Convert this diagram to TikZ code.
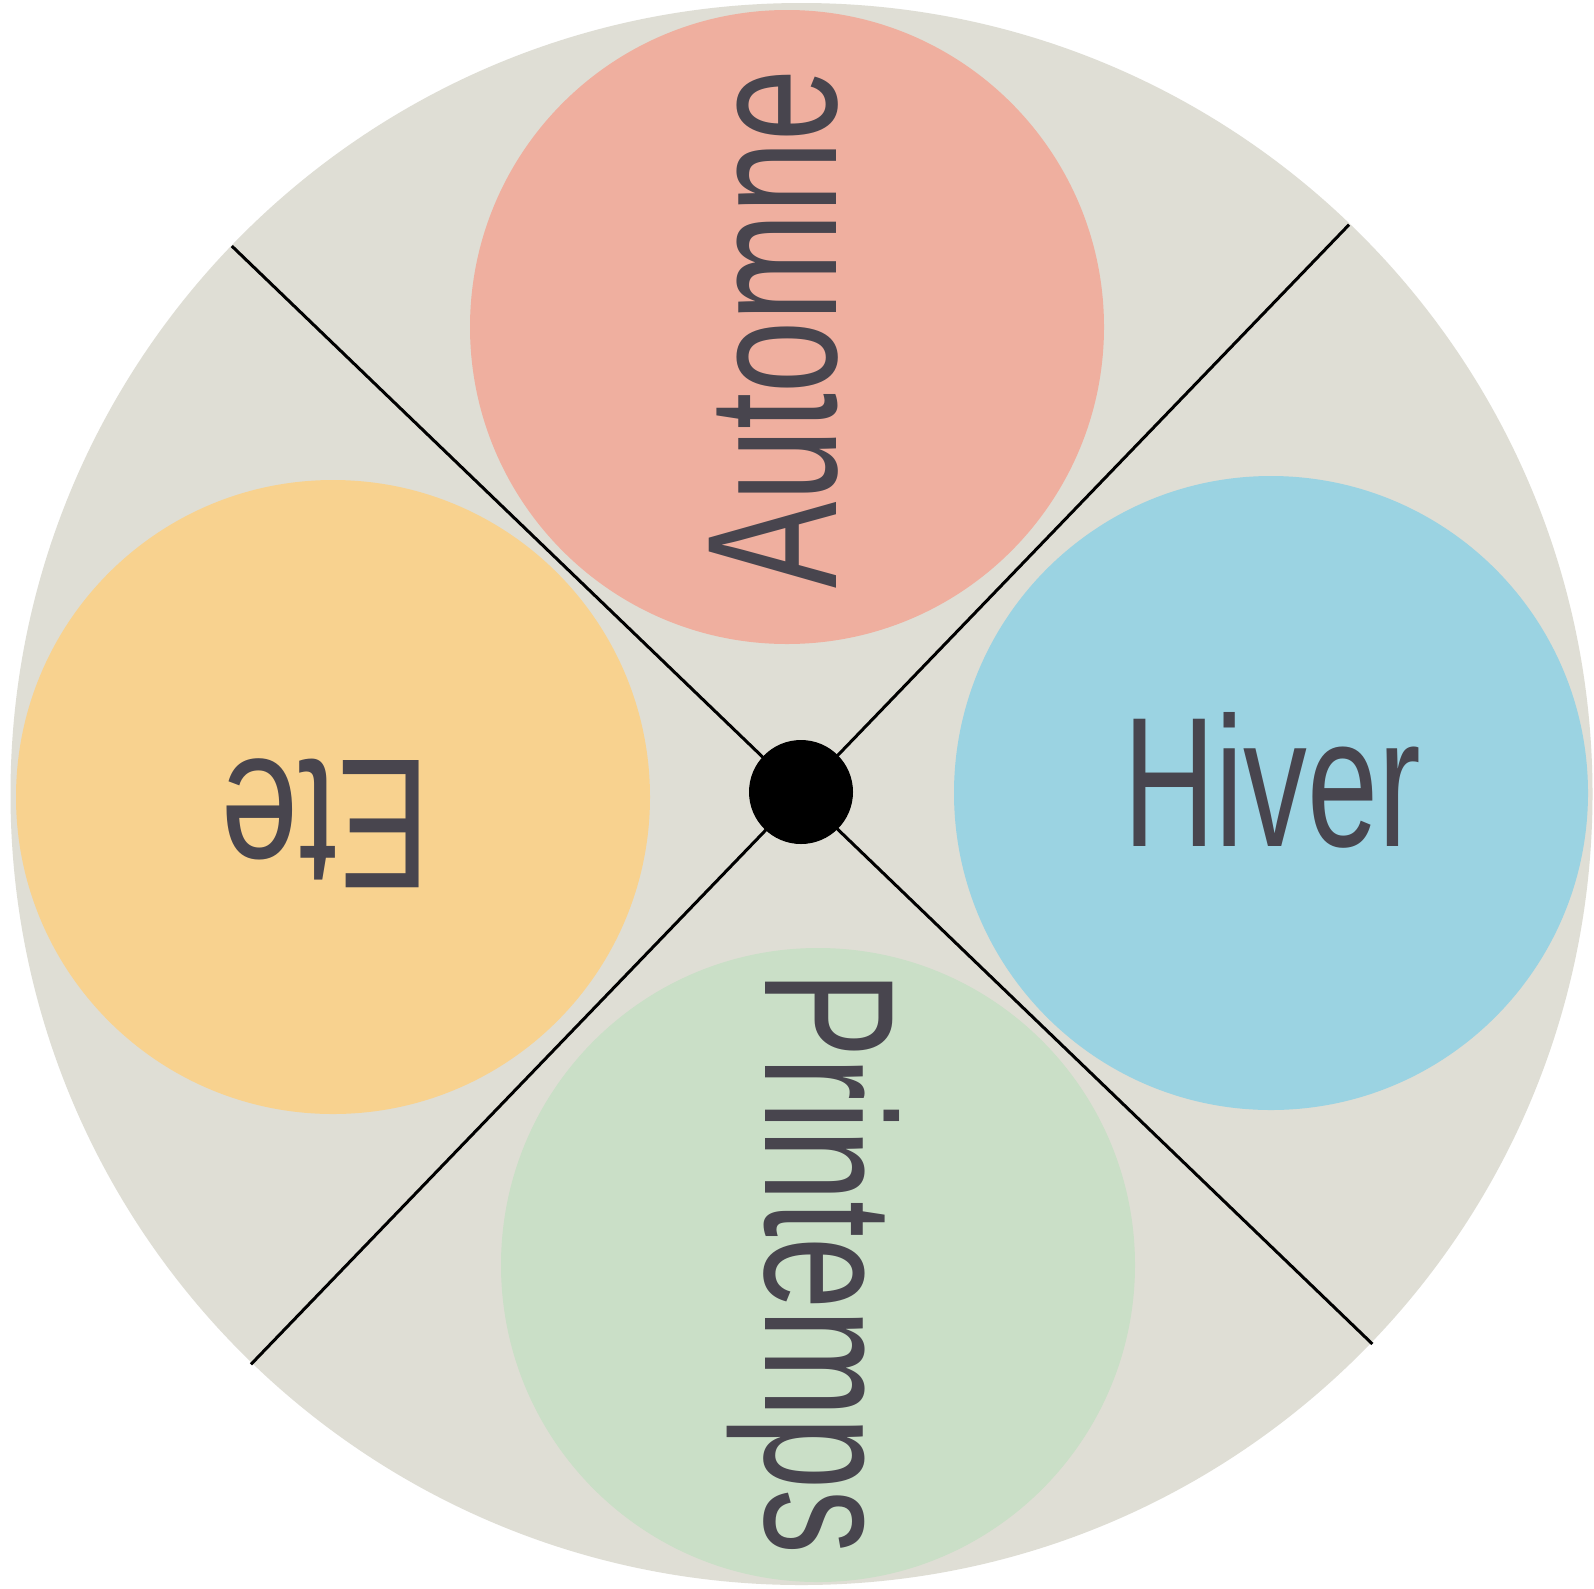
\documentclass[tikz,border=0pt]{standalone}
\usepackage{fontspec}
\usepackage{graphicx}
\setmainfont{Liberation Sans}
\definecolor{bggrey}{RGB}{223,222,213}
\definecolor{autred}{RGB}{239,175,159}
\definecolor{eteorange}{RGB}{248,210,143}
\definecolor{hivblue}{RGB}{155,211,226}
\definecolor{prigreen}{RGB}{202,223,199}
\definecolor{inkgrey}{RGB}{72,69,78}
\tikzset{
  season/.style={circle, inner sep=0pt, minimum size=634pt, draw=none},
  word/.style={text=inkgrey, inner sep=0pt, anchor=base, font=\fontsize{185}{185}\selectfont},
  divider/.style={black, line width=3pt},
}
\newcommand{\narrow}[2]{\scalebox{#1}[1]{#2}}
\begin{document}
\begin{tikzpicture}[x=1pt, y=-1pt]
  \useasboundingbox (0,0) rectangle (1594,1588);
  \fill[white] (0,0) rectangle (1594,1588);
  \node[circle, fill=bggrey, inner sep=0pt, minimum size=1582pt] (disc) at (801.5,794) {};
  \node[season, fill=autred] (aut) at (787,327) {};
  \node[season, fill=eteorange] (ete) at (333,797) {};
  \node[season, fill=hivblue] (hiv) at (1271,793) {};
  \node[season, fill=prigreen] (pri) at (818,1265) {};
  \coordinate (l1a) at (231.8,246);
  \coordinate (l1b) at (1372.4,1344);
  \coordinate (l2a) at (1349,224.7);
  \coordinate (l2b) at (251,1364.3);
  \draw[divider] (l1a) -- (l1b);
  \draw[divider] (l2a) -- (l2b);
  \node[circle, fill=black, inner sep=0pt, minimum size=104pt] (hub) at (801,792) {};
  \node[word, rotate=90] (tAut) at (836,329) {\narrow{0.70}{Automne}};
  \node[word] (tHiv) at (1272,846) {\narrow{0.69}{Hiver}};
  \node[word, rotate=180] (tEte) at (326,760) {\narrow{0.755}{Ete}};
  \node[word, rotate=-90] (tPri) at (765,1263) {\narrow{0.70}{Printemps}};
\end{tikzpicture}
\end{document}
